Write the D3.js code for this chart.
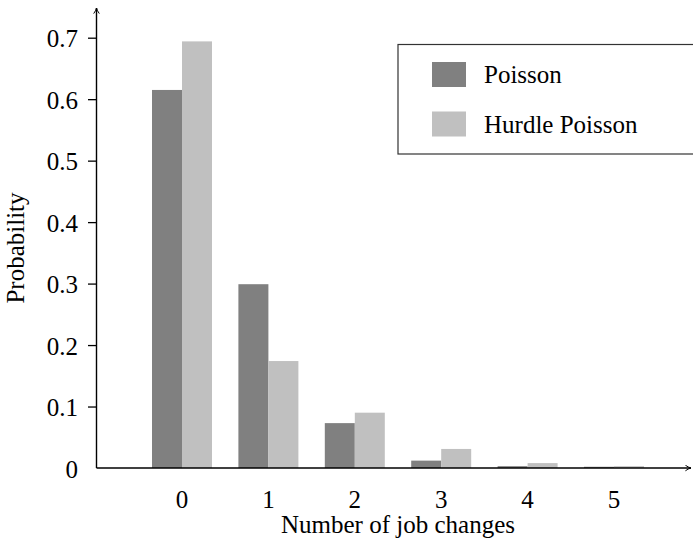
<!DOCTYPE html>
<html>
<head>
<meta charset="utf-8">
<script src="https://cdn.jsdelivr.net/npm/d3@7"></script>
<style>
  html, body { margin: 0; padding: 0; background: #fff; }
  svg { display: block; }
  text { font-family: "Liberation Serif", "DejaVu Serif", serif; fill: #000; }
</style>
</head>
<body>
<div id="chart"></div>
<script>
const categories = ["0", "1", "2", "3", "4", "5"];
const seriesNames = ["Poisson", "Hurdle Poisson"];
const poisson = [0.615, 0.299, 0.073, 0.012, 0.003, 0.002];
const hurdlePoisson = [0.694, 0.174, 0.090, 0.031, 0.008, 0.003];
const yTicks = [0, 0.1, 0.2, 0.3, 0.4, 0.5, 0.6, 0.7];
const colors = ["#808080", "#c0c0c0"];
const xTitle = "Number of job changes";
const yTitle = "Probability";

const W = 693, H = 542;
const FONT = '"Liberation Serif", "DejaVu Serif", serif';
const FS = "25px";
const svg = d3.select("#chart").append("svg").attr("width", W).attr("height", H);

const axisX0 = 96.5, axisY0 = 468;
const step = 86.4, firstCenter = 182;
const pIn = 1 - 60 / step;

const x = d3.scaleBand().domain(categories)
  .range([firstCenter - step / 2, firstCenter - step / 2 + step * categories.length])
  .paddingInner(pIn).paddingOuter(pIn / 2);
const xs = d3.scaleBand().domain(seriesNames).range([0, x.bandwidth()]).padding(0);
const y = d3.scaleLinear().domain([0, 0.7]).range([axisY0, 37.7]);

const data = categories.map((c, i) => ({ cat: c, vals: [poisson[i], hurdlePoisson[i]] }));

// bars
const groups = svg.append("g").selectAll("g").data(data).join("g")
  .attr("transform", d => `translate(${x(d.cat)},0)`);
groups.selectAll("rect").data(d => d.vals.map((v, j) => ({ s: seriesNames[j], v, j })))
  .join("rect")
  .attr("x", d => xs(d.s))
  .attr("width", xs.bandwidth())
  .attr("y", d => y(d.v))
  .attr("height", d => axisY0 - y(d.v))
  .attr("fill", d => colors[d.j]);

// y axis ticks
const yAxis = d3.axisLeft(y).tickValues(yTicks).tickSize(8.5).tickPadding(10)
  .tickSizeOuter(0)
  .tickFormat(d => d === 0 ? "0" : d3.format(".1f")(d));
const gy = svg.append("g").attr("transform", `translate(${axisX0},0)`).call(yAxis);
gy.attr("font-family", null).attr("font-size", null);
gy.select(".domain").remove();
gy.selectAll(".tick line").attr("stroke", "#000").attr("stroke-width", 1.3)
  .filter(d => d === 0).remove();
gy.selectAll(".tick text").style("font-family", FONT).style("font-size", FS).attr("dy", "0.36em");

// x axis labels
const xAxis = d3.axisBottom(x).tickSize(0).tickPadding(22);
const gx = svg.append("g").attr("transform", `translate(0,${axisY0})`).call(xAxis);
gx.attr("font-family", null).attr("font-size", null);
gx.select(".domain").remove();
gx.selectAll(".tick text").style("font-family", FONT).style("font-size", FS);

// axis lines with arrows
svg.append("defs").append("marker")
  .attr("id", "arrow").attr("viewBox", "0 0 10 10").attr("refX", 9).attr("refY", 5)
  .attr("markerWidth", 7).attr("markerHeight", 7).attr("markerUnits", "userSpaceOnUse")
  .attr("orient", "auto")
  .append("path").attr("d", "M1,1 Q5,4 9,5 Q5,6 1,9").attr("fill", "none")
  .attr("stroke", "#000").attr("stroke-width", 1.4);

svg.append("line").attr("x1", axisX0).attr("y1", axisY0).attr("x2", axisX0).attr("y2", 8)
  .attr("stroke", "#000").attr("stroke-width", 1.4).attr("marker-end", "url(#arrow)");
svg.append("line").attr("x1", axisX0).attr("y1", axisY0).attr("x2", 691).attr("y2", axisY0)
  .attr("stroke", "#000").attr("stroke-width", 1.4).attr("marker-end", "url(#arrow)");

// titles
svg.append("text").attr("x", 398).attr("y", 533).attr("text-anchor", "middle")
  .style("font-family", FONT).style("font-size", FS).text(xTitle);
svg.append("text").attr("transform", "translate(24,248) rotate(-90)")
  .attr("text-anchor", "middle").style("font-family", FONT).style("font-size", FS).text(yTitle);

// legend
const lg = svg.append("g");
lg.append("rect").attr("x", 398).attr("y", 44.5).attr("width", 320).attr("height", 109.5)
  .attr("fill", "#fff").attr("stroke", "#333").attr("stroke-width", 1.2);
seriesNames.forEach((s, i) => {
  const yy = 62 + i * 49.5;
  lg.append("rect").attr("x", 432).attr("y", yy).attr("width", 34).attr("height", 25)
    .attr("fill", colors[i]);
  lg.append("text").attr("x", 484).attr("y", yy + 21)
    .style("font-family", FONT).style("font-size", FS).text(s);
});
</script>
</body>
</html>
